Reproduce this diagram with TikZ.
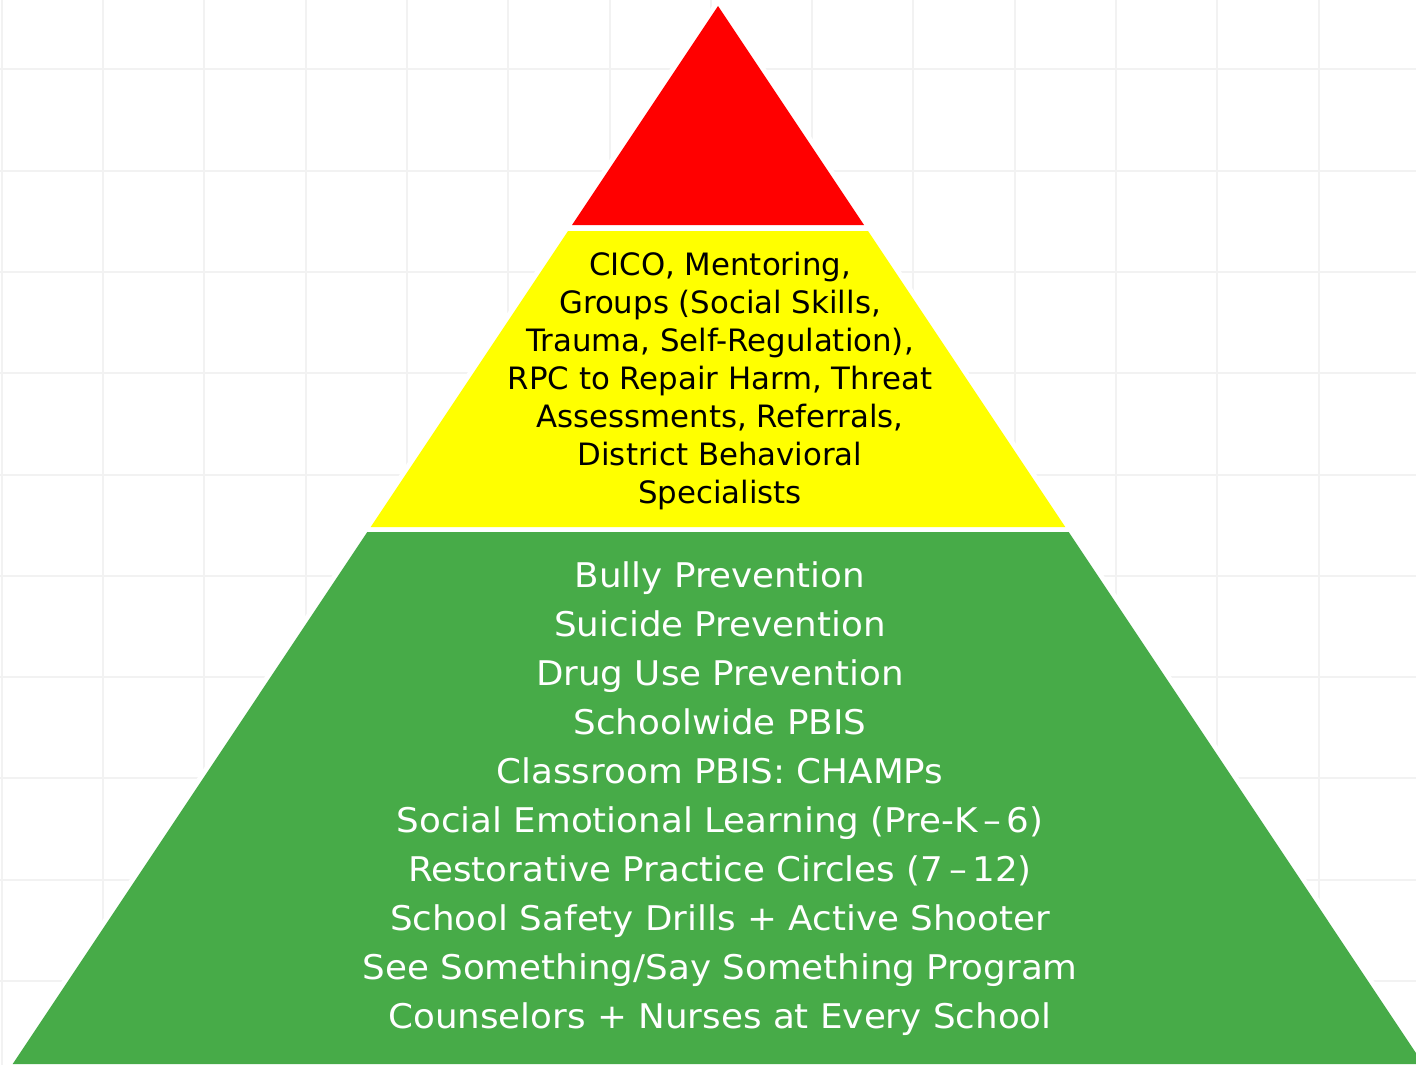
\documentclass[tikz,border=0pt]{standalone}
\usepackage{fontspec}
\setmainfont{DejaVu Sans}
\newfontfamily\midfont{DejaVu Sans}
\newfontfamily\basefont[FakeStretch=1.05]{DejaVu Sans}
\usetikzlibrary{positioning}
\definecolor{TierRed}{HTML}{FF0000}
\definecolor{TierYellow}{HTML}{FFFF00}
\definecolor{TierGreen}{HTML}{47AB48}
\definecolor{GridGray}{HTML}{F2F2F2}

\tikzset{
  gridline/.style={draw=GridGray, line width=1pt},
  halo/.style={draw=white, fill=white, line width=5pt, line join=round},
  midtext/.style={align=center, text=black, inner sep=0pt,
                  font=\midfont\fontsize{15.4}{19}\selectfont},
  basetext/.style={align=center, text=white, inner sep=0pt,
                   font=\basefont\fontsize{17}{24.5}\selectfont},
}

\begin{document}
\begin{tikzpicture}[x=0.5pt, y=-0.5pt]
  \useasboundingbox (0,0) rectangle (1416,1065);
  \clip (0,0) rectangle (1416,1065);
  \fill[white] (0,0) rectangle (1416,1065);
  % background grid
  \foreach \gx in {0,...,13}
    \draw[gridline] ({1.7+101.3*\gx},0) -- ++(0,1065);
  \foreach \gy in {-1,0,...,9}
    \draw[gridline] (0,{69.3+101.3*\gy}) -- ++(1416,0);
  % pyramid
  \coordinate (apex) at (718,6);
  \draw[halo] (apex) -- (1423.3,1064) -- (12.7,1064) -- cycle;
  \fill[TierRed] (apex) -- (864,225) -- (572,225) -- cycle;
  \fill[TierYellow] (568,231) -- (868,231) -- (1065.3,527) -- (370.7,527) -- cycle;
  \fill[TierGreen] (367.3,532) -- (1068.7,532) -- (1423.3,1064) -- (12.7,1064) -- cycle;
  % tier texts
  \node[midtext] (midtier) at (720,381) {CICO, Mentoring,\\
    Groups (Social Skills,\\
    Trauma, Self-Regulation),\\
    RPC to Repair Harm, Threat\\
    Assessments, Referrals,\\
    District Behavioral\\
    Specialists};
  \node[basetext] (basetier) at (720,799) {Bully Prevention\\
    Suicide Prevention\\
    Drug Use Prevention\\
    Schoolwide PBIS\\
    Classroom PBIS: CHAMPs\\
    Social Emotional Learning (Pre-K\,–\,6)\\
    Restorative Practice Circles (7\,–\,12)\\
    School Safety Drills + Active Shooter\\
    See Something/Say Something Program\\
    Counselors + Nurses at Every School};
\end{tikzpicture}
\end{document}
